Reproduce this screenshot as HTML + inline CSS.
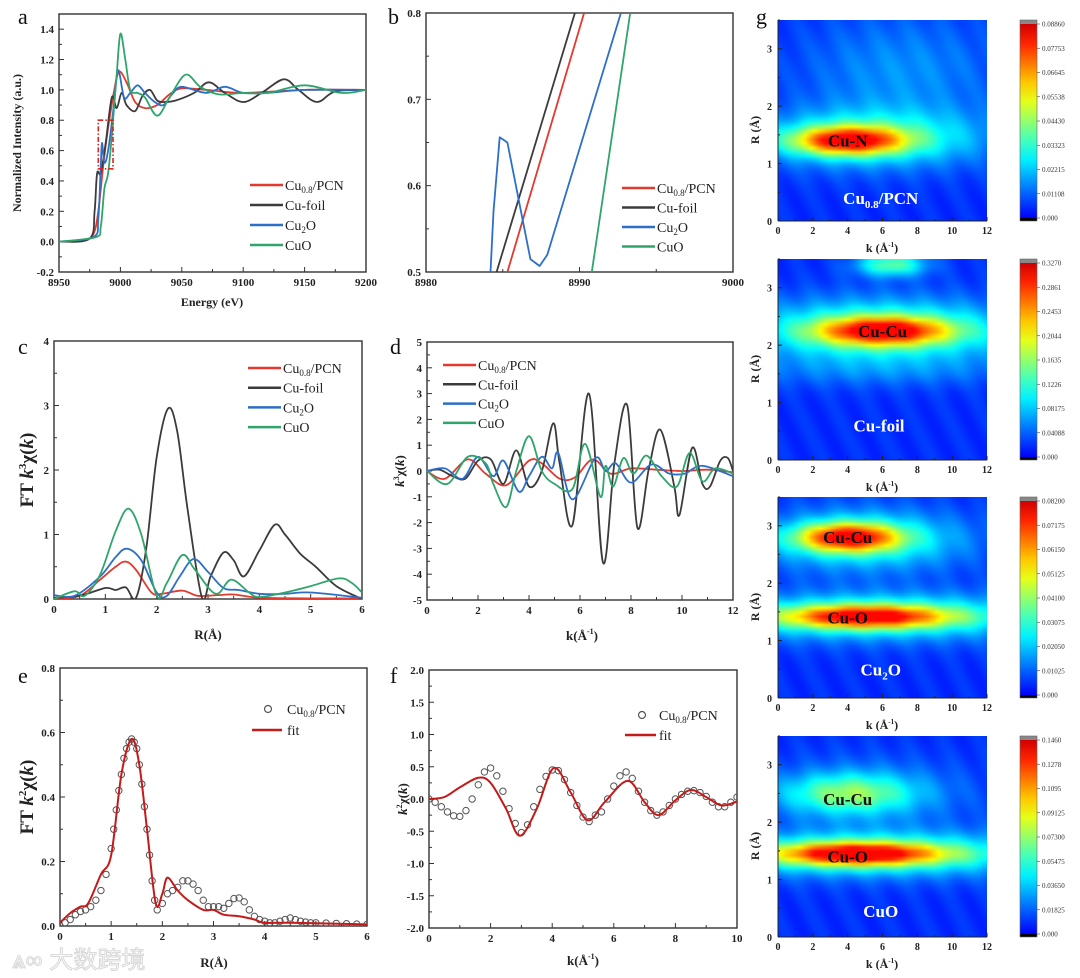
<!DOCTYPE html>
<html><head><meta charset="utf-8">
<style>
html,body{margin:0;padding:0;background:#fff;}
#wrap{position:relative;width:1080px;height:978px;overflow:hidden;font-family:"Liberation Serif",serif;}
svg{position:absolute;left:0;top:0;}
canvas{position:absolute;}
</style></head>
<body>
<div id="wrap">
<svg id="fig" width="1080" height="978" xmlns="http://www.w3.org/2000/svg"></svg>
</div>
<script>
// ---------- DATA ----------
const aRed=[[8950,0],[8970,0.01],[8978,0.05],[8982,0.2],[8986,0.5],[8990,0.75],[8995,1.0],[8999,1.12],[9005,1.05],[9012,0.92],[9020,0.88],[9030,0.9],[9040,0.97],[9050,1.01],[9070,1.0],[9100,0.98],[9150,1.0],[9200,1.0]];
const aDark=[[8950,0],[8975,0.02],[8979,0.2],[8981,0.45],[8984,0.45],[8988,0.65],[8993,0.95],[8997,0.88],[9001,0.98],[9005,0.9],[9012,0.86],[9018,0.96],[9024,1.0],[9030,0.93],[9036,0.92],[9045,0.93],[9060,0.98],[9072,1.05],[9085,0.98],[9100,0.92],[9115,0.98],[9133,1.07],[9145,1.0],[9160,0.92],[9175,0.99],[9200,1.0]];
const aBlue=[[8950,0],[8978,0.03],[8982,0.15],[8984,0.5],[8985,0.65],[8987,0.52],[8990,0.6],[8994,0.85],[8998,1.13],[9003,0.95],[9008,0.98],[9014,1.03],[9020,0.98],[9028,0.92],[9035,0.9],[9042,0.97],[9050,1.02],[9070,0.98],[9085,1.02],[9100,0.98],[9120,0.98],[9150,1.0],[9200,1.0]];
const aGreen=[[8950,0],[8980,0.03],[8984,0.1],[8987,0.35],[8990,0.45],[8993,0.7],[8997,1.1],[9000,1.37],[9004,1.2],[9008,1.0],[9014,0.98],[9020,0.95],[9030,0.83],[9040,0.95],[9053,1.1],[9065,1.02],[9080,0.97],[9100,0.98],[9120,0.98],[9150,1.03],[9180,0.98],[9200,1.0]];
const bRed=[[8985.3,0.5],[8990.3,0.8]];
const bDark=[[8984.6,0.5],[8989.7,0.8]];
const bBlue=[[8984.2,0.5],[8984.4,0.57],[8984.8,0.656],[8985.3,0.65],[8986.8,0.515],[8987.4,0.507],[8987.9,0.52],[8992.7,0.8]];
const bGreen=[[8990.8,0.5],[8993.3,0.8]];
const cRed=[[0,0],[0.5,0.05],[0.9,0.3],[1.2,0.5],[1.4,0.58],[1.6,0.45],[1.9,0.1],[2.1,0.08],[2.5,0.13],[2.8,0.05],[3.2,0.06],[3.5,0.07],[4,0.02],[5,0.01],[6,0.01]];
const cDark=[[0,0.02],[0.5,0.05],[1.0,0.17],[1.2,0.14],[1.4,0.18],[1.6,0.02],[1.8,0.8],[2.0,2.2],[2.22,2.95],[2.4,2.6],[2.6,1.4],[2.88,0.03],[3.05,0.35],[3.3,0.72],[3.5,0.6],[3.7,0.35],[4.0,0.75],[4.3,1.15],[4.5,1.0],[4.8,0.7],[5.1,0.5],[5.5,0.2],[6,0.0]];
const cBlue=[[0,0.06],[0.4,0.05],[0.9,0.35],[1.2,0.65],[1.42,0.78],[1.7,0.6],[2.0,0.1],[2.2,0.05],[2.45,0.35],[2.72,0.62],[3.0,0.42],[3.3,0.17],[3.6,0.14],[4.0,0.08],[4.5,0.08],[5,0.1],[6,0.02]];
const cGreen=[[0,0],[0.4,0.12],[0.6,0.05],[0.9,0.38],[1.2,1.05],[1.45,1.4],[1.7,1.0],[2.0,0.05],[2.2,0.25],[2.5,0.68],[2.75,0.45],[3.15,0.08],[3.45,0.3],[3.8,0.1],[4.0,0.03],[4.5,0.1],[5,0.2],[5.55,0.32],[5.8,0.25],[6,0.1]];
const dRed=[[0,0],[0.7,-0.3],[1.6,0.45],[2.3,-0.1],[3.1,-0.55],[4.0,0.4],[4.5,0.3],[5.2,-0.3],[5.8,-0.25],[6.5,0.45],[7.2,-0.1],[8,0.1],[9,0.05],[10,0.0],[11,0.05],[12,-0.05]];
const dDark=[[0,0],[0.5,0.05],[1.0,-0.2],[1.5,-0.3],[2.0,0.4],[2.5,0.45],[3.0,-0.5],[3.5,0.8],[4.0,-0.6],[4.5,0.0],[4.95,1.85],[5.2,0.3],[5.7,-2.1],[6.35,3.0],[6.9,-3.55],[7.35,0.3],[7.85,2.55],[8.25,-2.2],[8.7,0.1],[9.15,1.6],[9.7,-0.6],[9.9,-1.7],[10.4,0.9],[10.8,-0.5],[11.1,-0.6],[11.5,0.4],[11.8,0.5],[12,0]];
const dBlue=[[0,0],[0.7,0.1],[1.4,-0.3],[2.0,0.55],[2.6,-0.2],[3.0,0.4],[3.6,-0.8],[4.0,-0.2],[4.5,0.55],[4.9,0.1],[5.15,0.7],[5.7,-1.1],[6.6,0.5],[7.0,0.0],[7.4,0.3],[8.0,-0.45],[8.8,0.25],[9.5,-0.1],[10.1,-0.1],[10.8,0.2],[12,-0.2]];
const dGreen=[[0,0],[0.8,-0.5],[1.6,0.55],[2.3,0.3],[2.6,-0.5],[3.1,-1.4],[3.5,0.0],[4.0,1.35],[4.5,0.0],[5.0,-0.5],[5.7,-0.7],[6.2,1.05],[6.8,-1.0],[7.0,0.2],[7.3,-0.6],[7.7,0.5],[8.1,-0.1],[8.6,0.6],[9.2,-0.2],[9.8,-0.6],[10.3,0.7],[10.8,-0.4],[11.3,0.1],[12,-0.1]];
const eR=[0,0.1,0.2,0.3,0.4,0.5,0.6,0.7,0.8,0.9,1.0,1.05,1.1,1.15,1.2,1.25,1.3,1.35,1.4,1.45,1.5,1.55,1.6,1.65,1.7,1.75,1.8,1.85,1.9,2.0,2.1,2.2,2.3,2.4,2.5,2.6,2.7,2.8,2.9,3.0,3.1,3.2,3.3,3.4,3.5,3.6,3.7,3.8,3.9,4.0,4.1,4.2,4.3,4.4,4.5,4.6,4.7,4.8,4.9,5.0,5.2,5.4,5.6,5.8,6.0];
const eData=[0.0,0.01,0.02,0.035,0.045,0.05,0.06,0.08,0.11,0.16,0.24,0.3,0.36,0.42,0.47,0.52,0.55,0.57,0.58,0.57,0.55,0.5,0.44,0.37,0.3,0.22,0.14,0.08,0.05,0.07,0.1,0.11,0.12,0.14,0.14,0.13,0.11,0.08,0.06,0.06,0.06,0.055,0.07,0.085,0.087,0.075,0.05,0.03,0.02,0.015,0.01,0.01,0.015,0.02,0.025,0.02,0.015,0.012,0.01,0.01,0.009,0.008,0.007,0.006,0.005];
const eFit=[[0,0.01],[0.2,0.04],[0.4,0.06],[0.55,0.07],[0.8,0.16],[1.0,0.22],[1.2,0.47],[1.4,0.58],[1.55,0.5],[1.7,0.3],[1.87,0.07],[2.0,0.1],[2.1,0.15],[2.3,0.11],[2.5,0.08],[2.8,0.05],[3.0,0.05],[3.2,0.035],[3.5,0.03],[3.8,0.02],[4.0,0.01],[4.5,0.01],[6,0.005]];
const fK=[0,0.2,0.4,0.6,0.8,1.0,1.2,1.4,1.6,1.8,2.0,2.2,2.4,2.6,2.8,3.0,3.2,3.4,3.6,3.8,4.0,4.2,4.4,4.6,4.8,5.0,5.2,5.4,5.6,5.8,6.0,6.2,6.4,6.6,6.8,7.0,7.2,7.4,7.6,7.8,8.0,8.2,8.4,8.6,8.8,9.0,9.2,9.4,9.6,9.8,10.0];
const fData=[0.0,-0.05,-0.12,-0.2,-0.26,-0.27,-0.18,0.0,0.22,0.42,0.48,0.36,0.12,-0.15,-0.38,-0.52,-0.4,-0.12,0.15,0.35,0.45,0.44,0.3,0.1,-0.1,-0.28,-0.35,-0.25,-0.2,0.0,0.2,0.36,0.42,0.32,0.12,-0.05,-0.18,-0.25,-0.2,-0.1,0.0,0.07,0.12,0.13,0.1,0.04,-0.05,-0.12,-0.12,-0.05,0.03];
const fFit=[[0,0],[0.5,0.03],[1.0,0.18],[1.6,0.33],[2.0,0.25],[2.5,-0.15],[2.95,-0.57],[3.5,-0.15],[4.05,0.48],[4.6,0.1],[5.15,-0.33],[5.7,-0.05],[6.45,0.28],[7.0,-0.05],[7.45,-0.25],[8.0,-0.02],[8.5,0.14],[9.0,0.03],[9.5,-0.1],[10,-0.04]];
// wavelet hotspots [k, R, sigmaK, sigmaR, amplitude]
const g1Spots=[[4,1.4,2.2,0.17,0.58],[5.5,1.45,4.5,0.35,0.25],[7,2.6,4,0.7,0.1]];
const g2Spots=[[6,2.25,2.6,0.17,0.55],[6,2.25,5.5,0.38,0.3],[6.5,3.4,1.4,0.14,0.3],[6,1.55,6,0.2,0.06]];
const g3Spots=[[4,2.8,2.0,0.17,0.58],[5,2.75,4,0.36,0.25],[5,1.42,3.3,0.14,0.56],[6,1.42,7,0.28,0.27]];
const g4Spots=[[4.5,1.45,3.3,0.14,0.6],[6,1.45,7,0.27,0.28],[4,2.5,2.5,0.23,0.25],[5,2.5,4,0.4,0.12]];
const g1Ticks=["0.08860","0.07753","0.06645","0.05538","0.04430","0.03323","0.02215","0.01108","0.000"];
const g2Ticks=["0.3270","0.2861","0.2453","0.2044","0.1635","0.1226","0.08175","0.04088","0.000"];
const g3Ticks=["0.08200","0.07175","0.06150","0.05125","0.04100","0.03075","0.02050","0.01025","0.000"];
const g4Ticks=["0.1460","0.1278","0.1095","0.09125","0.07300","0.05475","0.03650","0.01825","0.000"];

// ---------- HELPERS ----------
const NS="http://www.w3.org/2000/svg";
const svg=document.getElementById('fig');
const wrap=document.getElementById('wrap');
function el(tag,attrs,name,parent){
  const e=document.createElementNS(NS,tag);
  for(const k in attrs)e.setAttribute(k,attrs[k]);
  
  
  (parent||svg).appendChild(e);return e;
}
function txt(x,y,s,opt,name,parent){
  const t=el('text',Object.assign({x:x,y:y,'font-family':'"Liberation Serif",serif','font-size':11,'font-weight':'bold',fill:'#222'},opt||{}),name,parent);
  t.innerHTML=s;return t;
}
function scale(box,xd,yd){
  return {x:v=>box.l+(v-xd[0])/(xd[1]-xd[0])*(box.r-box.l), y:v=>box.b-(v-yd[0])/(yd[1]-yd[0])*(box.b-box.t)};
}
function smooth(p){
  let d='M'+p[0][0].toFixed(1)+','+p[0][1].toFixed(1);
  for(let i=0;i<p.length-1;i++){
    const p0=p[i-1]||p[i],p1=p[i],p2=p[i+1],p3=p[i+2]||p2;
    const c1=[p1[0]+(p2[0]-p0[0])/6,p1[1]+(p2[1]-p0[1])/6];
    const c2=[p2[0]-(p3[0]-p1[0])/6,p2[1]-(p3[1]-p1[1])/6];
    d+=' C'+c1[0].toFixed(1)+','+c1[1].toFixed(1)+' '+c2[0].toFixed(1)+','+c2[1].toFixed(1)+' '+p2[0].toFixed(1)+','+p2[1].toFixed(1);
  }
  return d;
}
function axes(id,box,xd,yd,xt,yt,xm,ym,fx,fy,showX){
  const s=scale(box,xd,yd);
  const g=el('g',{},id+'-axes');
  for(let v=xd[0];v<=xd[1]+1e-9;v+=xm){const X=s.x(v);const maj=Math.abs(((v-xd[0])/xt)-Math.round((v-xd[0])/xt))<1e-6;
    el('line',{x1:X,x2:X,y1:box.b,y2:box.b-(maj?5:3),stroke:'#333','stroke-width':1},id+'-x-tick',g);}
  for(let v=yd[0];v<=yd[1]+1e-9;v+=ym){const Y=s.y(v);const maj=Math.abs(((v-yd[0])/yt)-Math.round((v-yd[0])/yt))<1e-6;
    el('line',{x1:box.l,x2:box.l+(maj?5:3),y1:Y,y2:Y,stroke:'#333','stroke-width':1},id+'-y-tick',g);}
  if(showX!==false)for(let v=xd[0];v<=xd[1]+1e-9;v+=xt){txt(s.x(v),box.b+14,fx(v),{'text-anchor':'middle'},id+'-x-tick-label',g);}
  for(let v=yd[0];v<=yd[1]+1e-9;v+=yt){txt(box.l-5,s.y(v)+4,fy(v),{'text-anchor':'end'},id+'-y-tick-label',g);}
  el('rect',{x:box.l,y:box.t,width:box.r-box.l,height:box.b-box.t,fill:'none',stroke:'#333','stroke-width':1.4},id+'-frame',g);
  return s;
}
function series(s,data,color,name,lin,w){
  const p=data.map(d=>[s.x(d[0]),s.y(d[1])]);
  const d=lin?'M'+p.map(q=>q[0].toFixed(1)+','+q[1].toFixed(1)).join(' L'):smooth(p);
  return el('path',{d:d,fill:'none',stroke:color,'stroke-width':w||1.8,'stroke-linejoin':'round'},name);
}
function legend(x,y,dy,items,prefix,fs){
  items.forEach((it,i)=>{
    const Y=y+i*dy;
    el('line',{x1:x,x2:x+33,y1:Y,y2:Y,stroke:it[1],'stroke-width':2.5},prefix+'-legend-swatch');
    txt(x+35,Y+5,it[0],{'font-weight':'normal','font-size':14},prefix+'-legend-entry');
  });
}
function clipFor(id,box){
  const cp=el('clipPath',{id:id},id);
  el('rect',{x:box.l,y:box.t,width:box.r-box.l,height:box.b-box.t},id+'-rect',cp);
  return 'url(#'+id+')';
}
const RED='#e3392f',DARK='#3b3b3b',BLUE='#2d6fc8',GREEN='#2fa56b',FIT='#c41a1a';
const CU08='Cu<tspan font-size="9" dy="3">0.8</tspan><tspan dy="-3">/PCN</tspan>';
const CU2O='Cu<tspan font-size="9" dy="3">2</tspan><tspan dy="-3">O</tspan>';
const f1=v=>v.toFixed(1), f0=v=>String(Math.round(v));

[['a',18,24],['b',388,24],['g',756,24],['c',18,354],['d',390,354],['e',18,683],['f',390,683]].forEach(l=>txt(l[1],l[2],l[0],{'font-size':22,'font-weight':'normal',fill:'#111'},'panel-label-'+l[0]));

// ---------- PANEL A ----------
{const box={l:59,r:366,t:14,b:272};
 const s=axes('panel-a',box,[8950,9200],[-0.2,1.5],50,0.2,25,0.1,f0,v=>v>1.45?'':f1(v));
 const g=el('g',{'clip-path':clipFor('clip-a',box)},'panel-a-series');
 [[aRed,RED,'cu08-pcn-line'],[aDark,DARK,'cu-foil-line'],[aBlue,BLUE,'cu2o-line'],[aGreen,GREEN,'cuo-line']].forEach(q=>{g.appendChild(series(s,q[0],q[1],'panel-a-'+q[2]));});
 el('rect',{x:s.x(8982),y:s.y(0.8),width:s.x(8994)-s.x(8982),height:s.y(0.48)-s.y(0.8),fill:'none',stroke:'#d22','stroke-width':1.6,'stroke-dasharray':'5,2,1.5,2'},'panel-a-zoom-box');
 legend(250,185,20,[[CU08,RED],['Cu-foil',DARK],[CU2O,BLUE],['CuO',GREEN]],'panel-a',14);
 txt(212,306,'Energy (eV)',{'text-anchor':'middle','font-size':12},'panel-a-x-title');
 txt(0,0,'Normalized Intensity (a.u.)',{'text-anchor':'middle','font-size':12,transform:'translate(21,143) rotate(-90)'},'panel-a-y-title');
}
// ---------- PANEL B ----------
{const box={l:426,r:733,t:13,b:272};
 const s=axes('panel-b',box,[8980,9000],[0.5,0.8],10,0.1,5,0.05,f0,f1);
 const g=el('g',{'clip-path':clipFor('clip-b',box)},'panel-b-series');
 [[bRed,RED,'cu08-pcn-line'],[bDark,DARK,'cu-foil-line'],[bBlue,BLUE,'cu2o-line'],[bGreen,GREEN,'cuo-line']].forEach(q=>{g.appendChild(series(s,q[0],q[1],'panel-b-'+q[2],true));});
 legend(622,188,19.5,[[CU08,RED],['Cu-foil',DARK],[CU2O,BLUE],['CuO',GREEN]],'panel-b',14);
}
// ---------- PANEL C ----------
{const box={l:54,r:362,t:341,b:599};
 const s=axes('panel-c',box,[0,6],[0,4],1,1,0.5,0.5,f0,f0);
 const g=el('g',{'clip-path':clipFor('clip-c',box)},'panel-c-series');
 [[cRed,RED,'cu08-pcn-line'],[cDark,DARK,'cu-foil-line'],[cBlue,BLUE,'cu2o-line'],[cGreen,GREEN,'cuo-line']].forEach(q=>{g.appendChild(series(s,q[0],q[1],'panel-c-'+q[2]));});
 legend(248,368,19.7,[[CU08,RED],['Cu-foil',DARK],[CU2O,BLUE],['CuO',GREEN]],'panel-c',14);
 txt(208,639,'R(Å)',{'text-anchor':'middle','font-size':13},'panel-c-x-title');
 txt(0,0,'FT <tspan font-style="italic">k</tspan><tspan font-size="11" dy="-7">3</tspan><tspan dy="7">χ(</tspan><tspan font-style="italic">k</tspan>)',{'text-anchor':'middle','font-size':19,transform:'translate(33,470) rotate(-90)'},'panel-c-y-title');
}
// ---------- PANEL D ----------
{const box={l:427,r:733,t:342,b:600};
 const s=axes('panel-d',box,[0,12],[-5,5],2,1,1,0.5,f0,f0);
 const g=el('g',{'clip-path':clipFor('clip-d',box)},'panel-d-series');
 [[dRed,RED,'cu08-pcn-line'],[dDark,DARK,'cu-foil-line'],[dBlue,BLUE,'cu2o-line'],[dGreen,GREEN,'cuo-line']].forEach(q=>{g.appendChild(series(s,q[0],q[1],'panel-d-'+q[2]));});
 legend(443,365,19.3,[[CU08,RED],['Cu-foil',DARK],[CU2O,BLUE],['CuO',GREEN]],'panel-d',14);
 txt(582,640,'k(Å<tspan font-size="8" dy="-6">-1</tspan><tspan dy="6">)</tspan>',{'text-anchor':'middle','font-size':13},'panel-d-x-title');
 txt(0,0,'<tspan font-style="italic">k</tspan><tspan font-size="8" dy="-5">3</tspan><tspan dy="5">χ(</tspan><tspan font-style="italic">k</tspan>)',{'text-anchor':'middle','font-size':13,transform:'translate(404,471) rotate(-90)'},'panel-d-y-title');
}
// ---------- PANEL E ----------
{const box={l:60,r:367,t:668,b:926};
 const s=axes('panel-e',box,[0,6],[0,0.8],1,0.2,0.5,0.1,f0,f1);
 const g=el('g',{'clip-path':clipFor('clip-e',box)},'panel-e-series');
 eR.forEach((r,i)=>{const c=el('circle',{cx:s.x(r),cy:s.y(eData[i]),r:3.2,fill:'none',stroke:'#555','stroke-width':1},'panel-e-data-point');g.appendChild(c);});
 g.appendChild(series(s,eFit,FIT,'panel-e-fit-line',false,2));
 el('circle',{cx:268,cy:709,r:3.5,fill:'none',stroke:'#555','stroke-width':1.2},'panel-e-legend-marker');
 txt(287,714,CU08,{'font-weight':'normal','font-size':14},'panel-e-legend-entry');
 el('line',{x1:252,x2:282,y1:730,y2:730,stroke:FIT,'stroke-width':2.5},'panel-e-legend-swatch');
 txt(287,735,'fit',{'font-weight':'normal','font-size':14},'panel-e-legend-entry');
 txt(214,967,'R(Å)',{'text-anchor':'middle','font-size':13},'panel-e-x-title');
 txt(0,0,'FT <tspan font-style="italic">k</tspan><tspan font-size="11" dy="-7">2</tspan><tspan dy="7">χ(</tspan><tspan font-style="italic">k</tspan>)',{'text-anchor':'middle','font-size':19,transform:'translate(33,797) rotate(-90)'},'panel-e-y-title');
}
// ---------- PANEL F ----------
{const box={l:429,r:737,t:670,b:928};
 const s=axes('panel-f',box,[0,10],[-2,2],2,0.5,1,0.25,f0,f1);
 const g=el('g',{'clip-path':clipFor('clip-f',box)},'panel-f-series');
 fK.forEach((k,i)=>{const c=el('circle',{cx:s.x(k),cy:s.y(fData[i]),r:3.2,fill:'none',stroke:'#555','stroke-width':1},'panel-f-data-point');g.appendChild(c);});
 g.appendChild(series(s,fFit,FIT,'panel-f-fit-line',false,2));
 el('circle',{cx:642,cy:715,r:3.5,fill:'none',stroke:'#555','stroke-width':1.2},'panel-f-legend-marker');
 txt(659,720,CU08,{'font-weight':'normal','font-size':14},'panel-f-legend-entry');
 el('line',{x1:625,x2:656,y1:735,y2:735,stroke:FIT,'stroke-width':2.5},'panel-f-legend-swatch');
 txt(659,740,'fit',{'font-weight':'normal','font-size':14},'panel-f-legend-entry');
 txt(583,965,'k(Å<tspan font-size="8" dy="-6">-1</tspan><tspan dy="6">)</tspan>',{'text-anchor':'middle','font-size':13},'panel-f-x-title');
 txt(0,0,'<tspan font-style="italic">k</tspan><tspan font-size="8" dy="-5">2</tspan><tspan dy="5">χ(</tspan><tspan font-style="italic">k</tspan>)',{'text-anchor':'middle','font-size':13,transform:'translate(407,799) rotate(-90)'},'panel-f-y-title');
}
// ---------- PANEL G ----------
function jet(v){const c=x=>Math.max(0,Math.min(1,x));return [c(1.5-Math.abs(4*v-3)),c(1.5-Math.abs(4*v-2)),c(1.5-Math.abs(4*v-1))].map(x=>Math.round(x*255));}
function heat(idx,top,spots,ticks,labels){
  const box={l:778,r:987,t:top,b:top+201};
  const W=box.r-box.l,H=box.b-box.t,nx=72,ny=48;
  const off=document.createElement('canvas');off.width=nx;off.height=ny;
  const octx=off.getContext('2d');const img=octx.createImageData(nx,ny);
  for(let j=0;j<ny;j++)for(let i=0;i<nx;i++){
    const k=(i+0.5)/nx*12,R=3.5-(j+0.5)/ny*3.5;
    let v=0.17+0.015*Math.sin(k*3+R*5);
    spots.forEach(p=>{v+=p[4]*Math.exp(-0.5*((k-p[0])/p[2])**2-0.5*((R-p[1])/p[3])**2);});
    const c=jet(Math.min(0.87,v));const o=(j*nx+i)*4;
    img.data[o]=c[0];img.data[o+1]=c[1];img.data[o+2]=c[2];img.data[o+3]=255;
  }
  octx.putImageData(img,0,0);
  const cv=document.createElement('canvas');cv.width=W;cv.height=H;
  cv.style.left=box.l+'px';cv.style.top=box.t+'px';
  
  
  const ctx=cv.getContext('2d');ctx.imageSmoothingEnabled=true;ctx.drawImage(off,0,0,W,H);
  wrap.insertBefore(cv,svg);
  svg.style.zIndex=1;cv.style.zIndex=0;
  const s=scale(box,[0,12],[0,3.5]);
  const g=el('g',{},'wavelet-'+idx+'-axes');
  for(let v=0;v<=12;v+=1){el('line',{x1:s.x(v),x2:s.x(v),y1:box.b,y2:box.b-(v%2?2:4),stroke:'#222','stroke-width':1},'wavelet-'+idx+'-x-tick',g);}
  for(let v=0;v<=12;v+=2){txt(s.x(v),box.b+13,String(v),{'text-anchor':'middle','font-size':10},'wavelet-'+idx+'-x-tick-label',g);}
  for(let v=0;v<=3.5;v+=0.5){el('line',{x1:box.l,x2:box.l+(v%1?2:4),y1:s.y(v),y2:s.y(v),stroke:'#222','stroke-width':1},'wavelet-'+idx+'-y-tick',g);}
  for(let v=0;v<=3;v++){txt(box.l-6,s.y(v)+4,String(v),{'text-anchor':'end','font-size':10},'wavelet-'+idx+'-y-tick-label',g);}
  el('line',{x1:box.l,x2:box.l,y1:box.t,y2:box.b,stroke:'#222','stroke-width':1},'wavelet-'+idx+'-y-axis',g);
  el('line',{x1:box.l,x2:box.r,y1:box.b,y2:box.b,stroke:'#222','stroke-width':1},'wavelet-'+idx+'-x-axis',g);
  txt(882,box.b+31,'k (Å<tspan font-size="7" dy="-5">-1</tspan><tspan dy="5">)</tspan>',{'text-anchor':'middle','font-size':12},'wavelet-'+idx+'-x-title',g);
  txt(0,0,'R (Å)',{'text-anchor':'middle','font-size':12,transform:'translate(759,'+(box.t+110)+') rotate(-90)'},'wavelet-'+idx+'-y-title',g);
  labels.forEach(l=>txt(s.x(l[1]),s.y(l[2])+6,l[0],{'text-anchor':'middle','font-size':17,fill:l[3]},'wavelet-'+idx+'-annotation',g));
  const gid='cbgrad'+idx;
  const lg=el('linearGradient',{id:gid,x1:0,y1:1,x2:0,y2:0},gid);
  for(let t=0;t<=10;t++){const c=jet(0.12+t/10*0.8);el('stop',{offset:t/10,'stop-color':'rgb('+c.join(',')+')'},'colorbar-stop',lg);}
  const cx=1020,cw=17;
  el('rect',{x:cx,y:box.t+4,width:cw,height:H-7,fill:'url(#'+gid+')'},'wavelet-'+idx+'-colorbar');
  el('rect',{x:cx,y:box.t,width:cw,height:4,fill:'#888'},'wavelet-'+idx+'-colorbar-cap');
  el('rect',{x:cx,y:box.b-3,width:cw,height:3,fill:'#000'},'wavelet-'+idx+'-colorbar-floor');
  el('rect',{x:cx,y:box.t,width:cw,height:H,fill:'none',stroke:'#666','stroke-width':0.6},'wavelet-'+idx+'-colorbar-frame');
  ticks.forEach((t,i)=>{const Y=box.t+4+i*(H-7)/(ticks.length-1);
    el('line',{x1:cx+cw,x2:cx+cw+3,y1:Y,y2:Y,stroke:'#444','stroke-width':0.6},'wavelet-'+idx+'-colorbar-tick');
    txt(cx+cw+5,Y+2.5,t,{'font-size':7,'font-weight':'normal',fill:'#333'},'wavelet-'+idx+'-colorbar-label');});
}
heat(1,20,g1Spots,g1Ticks,[['Cu-N',4,1.4,'#111'],['Cu<tspan font-size="11" dy="4">0.8</tspan><tspan dy="-4">/PCN</tspan>',5.9,0.4,'#fff']]);
heat(2,259,g2Spots,g2Ticks,[['Cu-Cu',6,2.25,'#111'],['Cu-foil',5.8,0.6,'#fff']]);
heat(3,497,g3Spots,g3Ticks,[['Cu-Cu',4,2.8,'#111'],['Cu-O',4,1.4,'#111'],['Cu<tspan font-size="11" dy="4">2</tspan><tspan dy="-4">O</tspan>',5.9,0.5,'#fff']]);
heat(4,736,g4Spots,g4Ticks,[['Cu-Cu',4,2.4,'#111'],['Cu-O',4,1.4,'#111'],['CuO',5.9,0.45,'#fff']]);
txt(12,968,'⩓∞ 大数跨境',{'font-family':'"Liberation Sans","Noto Sans CJK SC",sans-serif','font-size':24,'font-weight':'normal',fill:'none',stroke:'#d8d8d8','stroke-width':1},'watermark');
</script>
</body></html>
